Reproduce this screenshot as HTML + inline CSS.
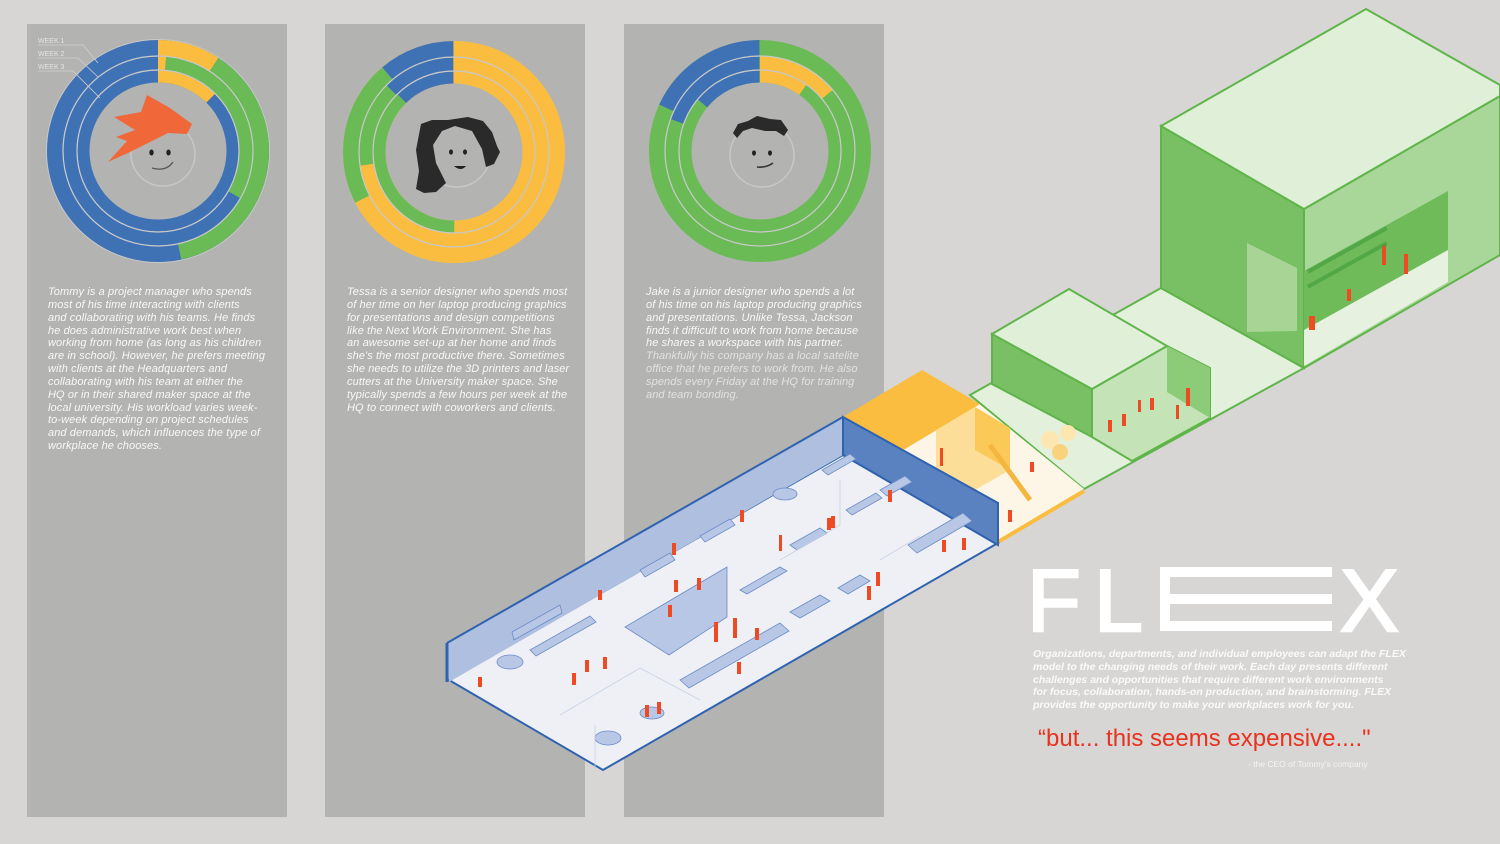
<!DOCTYPE html>
<html><head><meta charset="utf-8"><style>
html,body{margin:0;padding:0;background:#d7d6d4;}
body{width:1500px;height:844px;overflow:hidden;position:relative;font-family:"Liberation Sans",sans-serif;}
.panel{position:absolute;top:24px;width:260px;height:793px;background:#b3b3b2;}
.txt{position:absolute;font-style:italic;font-size:11px;letter-spacing:0.1px;line-height:12.85px;color:#f8f8f8;white-space:nowrap;}
.dim{color:#e2e2e2;}
svg{position:absolute;left:0;top:0;}
</style></head><body>
<div class="panel" style="left:27px"></div>
<div class="panel" style="left:325px"></div>
<div class="panel" style="left:624px"></div>

<div class="txt" style="left:48px;top:286px">Tommy is a project manager who spends<br>most of his time interacting with clients<br>and collaborating with his teams. He finds<br>he does administrative work best when<br>working from home (as long as his children<br>are in school). However, he prefers meeting<br>with clients at the Headquarters and<br>collaborating with his team at either the<br>HQ or in their shared maker space at the<br>local university. His workload varies week-<br>to-week depending on project schedules<br>and demands, which influences the type of<br>workplace he chooses.</div>

<div class="txt" style="left:347px;top:286px">Tessa is a senior designer who spends most<br>of her time on her laptop producing graphics<br>for presentations and design competitions<br>like the Next Work Environment. She has<br>an awesome set-up at her home and finds<br>she's the most productive there. Sometimes<br>she needs to utilize the 3D printers and laser<br>cutters at the University maker space. She<br>typically spends a few hours per week at the<br>HQ to connect with coworkers and clients.</div>

<div class="txt" style="left:646px;top:286px">Jake is a junior designer who spends a lot<br>of his time on his laptop producing graphics<br>and presentations. Unlike Tessa, Jackson<br>finds it difficult to work from home because<br>he shares a workspace with his partner.<br><span class="dim">Thankfully his company has a local satelite<br>office that he prefers to work from. He also<br>spends every Friday at the HQ for training<br>and team bonding.</span></div>

<svg width="1500" height="844" viewBox="0 0 1500 844">
<!-- CHART 1 -->
<g transform="translate(158,151) rotate(-90)" fill="none">
 <circle r="111.5" stroke="#c9c9c9" stroke-width="1"/>
 <circle r="103" stroke="#3f72b5" stroke-width="16"/>
 <circle r="103" pathLength="360" stroke="#fbbd3f" stroke-width="16" stroke-dasharray="33 400"/>
 <circle r="103" pathLength="360" stroke="#6abb55" stroke-width="16" stroke-dasharray="135 400" stroke-dashoffset="-33"/>
 <circle r="88" stroke="#3f72b5" stroke-width="13"/>
 <circle r="88" pathLength="360" stroke="#fbbd3f" stroke-width="13" stroke-dasharray="5 400"/>
 <circle r="88" pathLength="360" stroke="#6abb55" stroke-width="13" stroke-dasharray="115 400" stroke-dashoffset="-5"/>
 <circle r="74.5" stroke="#3f72b5" stroke-width="12"/>
 <circle r="74.5" pathLength="360" stroke="#fbbd3f" stroke-width="12" stroke-dasharray="45 400"/>
 <circle r="95" stroke="#c9c9c9" stroke-width="1.2"/>
 <circle r="81" stroke="#c9c9c9" stroke-width="1.2"/>
</g>
<g stroke="#d0d0d0" stroke-width="0.8" fill="none">
 <polyline points="38,45 83,45 98,63"/><polyline points="38,58 78,58 98,77"/><polyline points="38,71 73,71 100,98"/>
</g>
<g font-size="7" fill="#e4e4e4"><text x="38" y="43">WEEK 1</text><text x="38" y="56">WEEK 2</text><text x="38" y="69">WEEK 3</text></g>
<circle cx="163" cy="154" r="32" fill="none" stroke="#c7c7c7" stroke-width="1.5"/>
<polygon points="108,162 127,141 116,137 135,130 114,117 141,112 147,95 170,108 192,124 187,134 168,133 128,153" fill="#f0673a"/>
<ellipse cx="151.5" cy="152.5" rx="2.2" ry="3" fill="#222"/><ellipse cx="168.5" cy="152.5" rx="2.2" ry="3" fill="#222"/>
<path d="M152 168 Q166 172 173 162" stroke="#555" stroke-width="1.3" fill="none"/>

<!-- CHART 2 -->
<g transform="translate(454,152) rotate(-90)" fill="none">
 <circle r="103" stroke="#fbbd3f" stroke-width="16"/>
 <circle r="103" pathLength="360" stroke="#6abb55" stroke-width="16" stroke-dasharray="78 400" stroke-dashoffset="-243"/>
 <circle r="103" pathLength="360" stroke="#3f72b5" stroke-width="16" stroke-dasharray="40 400" stroke-dashoffset="-320"/>
 <circle r="88" stroke="#fbbd3f" stroke-width="13"/>
 <circle r="88" pathLength="360" stroke="#6abb55" stroke-width="13" stroke-dasharray="53 400" stroke-dashoffset="-262"/>
 <circle r="88" pathLength="360" stroke="#3f72b5" stroke-width="13" stroke-dasharray="45 400" stroke-dashoffset="-315"/>
 <circle r="74.5" stroke="#fbbd3f" stroke-width="12"/>
 <circle r="74.5" pathLength="360" stroke="#6abb55" stroke-width="12" stroke-dasharray="136 400" stroke-dashoffset="-180"/>
 <circle r="74.5" pathLength="360" stroke="#3f72b5" stroke-width="12" stroke-dasharray="44 400" stroke-dashoffset="-316"/>
 <circle r="95" stroke="#c9c9c9" stroke-width="1.2"/>
 <circle r="81" stroke="#c9c9c9" stroke-width="1.2"/>
</g>
<circle cx="457" cy="154" r="33" fill="none" stroke="#c7c7c7" stroke-width="1.5"/>
<polygon points="421,124 432,120 448,120 468,117 483,121 492,132 497,146 500,152 494,164 486,167 482,149 472,131 455,126 442,131 433,145 436,163 446,183 436,192 424,193 416,189 419,171 416,150" fill="#2a2a2a"/>
<ellipse cx="451" cy="152" rx="2" ry="2.6" fill="#222"/><ellipse cx="465" cy="152" rx="2" ry="2.6" fill="#222"/>
<path d="M454 166 L466 166 Q461 172 454 166Z" fill="#222"/>

<!-- CHART 3 -->
<g transform="translate(760,151) rotate(-90)" fill="none">
 <circle r="103" stroke="#6abb55" stroke-width="16"/>
 <circle r="103" pathLength="360" stroke="#3f72b5" stroke-width="16" stroke-dasharray="65 400" stroke-dashoffset="-295"/>
 <circle r="88" stroke="#6abb55" stroke-width="13"/>
 <circle r="88" pathLength="360" stroke="#fbbd3f" stroke-width="13" stroke-dasharray="50 400"/>
 <circle r="88" pathLength="360" stroke="#3f72b5" stroke-width="13" stroke-dasharray="70 400" stroke-dashoffset="-290"/>
 <circle r="74.5" stroke="#6abb55" stroke-width="12"/>
 <circle r="74.5" pathLength="360" stroke="#fbbd3f" stroke-width="12" stroke-dasharray="35 400"/>
 <circle r="74.5" pathLength="360" stroke="#3f72b5" stroke-width="12" stroke-dasharray="50 400" stroke-dashoffset="-310"/>
 <circle r="95" stroke="#c9c9c9" stroke-width="1.2"/>
 <circle r="81" stroke="#c9c9c9" stroke-width="1.2"/>
</g>
<circle cx="762" cy="155" r="32" fill="none" stroke="#c7c7c7" stroke-width="1.5"/>
<polygon points="733,133 738,124 748,121 757,116 770,119 781,120 788,130 784,136 776,131 765,131 752,128 743,131 737,138" fill="#2a2a2a"/>
<ellipse cx="754" cy="153" rx="2" ry="2.6" fill="#222"/><ellipse cx="770" cy="153" rx="2" ry="2.6" fill="#222"/>
<path d="M757 167 Q766 168 773 163" stroke="#333" stroke-width="1.6" fill="none"/>

<!-- GREEN BIG BOX -->
<polygon points="970,395 1161,288 1304,368 1084,489" fill="#e3f0dc" stroke="#5fb54a" stroke-width="2"/>
<polygon points="1161,126 1304,209 1304,368 1161,288" fill="#79c064" stroke="#5fb54a" stroke-width="2"/>
<polygon points="1247,243 1297,268 1297,331 1247,332" fill="#a8d596"/>
<polygon points="1304,209 1500,96 1500,255 1304,368" fill="#a9d699" stroke="#5fb54a" stroke-width="2"/>
<polygon points="1304,271 1448,191 1448,282 1304,366" fill="#6fbb5a"/>
<polygon points="1304,330 1448,250 1448,282 1304,366" fill="#e6f2df"/>
<polygon points="1161,126 1366,9 1500,85 1500,96 1304,209" fill="#e0efd8" stroke="#5fb54a" stroke-width="2"/>
<!-- middle box -->
<polygon points="992,334 1092,389 1092,437 992,384" fill="#79c064" stroke="#5fb54a" stroke-width="2"/>
<polygon points="1092,389 1167,346 1210,368 1210,418 1132,461 1092,437" fill="#c4e4b8" stroke="#5fb54a" stroke-width="2"/>
<polygon points="1167,346 1210,368 1210,418 1167,392" fill="#8ccb77"/>
<polygon points="992,334 1069,289 1167,346 1092,389" fill="#e0efd8" stroke="#5fb54a" stroke-width="2"/>
<!-- YELLOW -->
<polygon points="900,450 978,403 1084,489 998,540" fill="#fdf6e6"/>
<polygon points="843,417 922,370 980,404 900,452" fill="#fbbd3f"/>
<polygon points="936,430 975,407 1010,428 1010,470 975,490 936,470" fill="#fddc8f" opacity="0.9"/>
<polygon points="975,407 1010,428 1010,470 975,450" fill="#fbc958"/>
<line x1="990" y1="445" x2="1030" y2="500" stroke="#f4b640" stroke-width="5"/>
<circle cx="1050" cy="440" r="9" fill="#fde7b0"/><circle cx="1068" cy="433" r="8" fill="#fde7b0"/><circle cx="1060" cy="452" r="8" fill="#f8d27d"/>
<line x1="998" y1="542" x2="1084" y2="491" stroke="#fbbd3f" stroke-width="4"/>
<!-- BLUE -->
<polygon points="449,680 843,455 998,543 603,770" fill="#eef0f5" stroke="#2f63b0" stroke-width="2"/>
<polygon points="447,643 843,417 843,455 449,682" fill="#aebfe0"/>
<line x1="447" y1="643" x2="843" y2="417" stroke="#2f63b0" stroke-width="2"/>
<line x1="447" y1="643" x2="447" y2="682" stroke="#2f63b0" stroke-width="3"/>
<polygon points="843,417 998,503 998,545 843,455" fill="#5a82c0" stroke="#2f63b0" stroke-width="2"/>
<g fill="#b8c7e6" stroke="#6b8cc8" stroke-width="0.8">
 <polygon points="625,627 727,567 727,617 669,655"/>
 <polygon points="740,590 780,567 787,571 747,594"/>
 <polygon points="680,680 780,623 789,631 689,688"/>
 <polygon points="530,650 590,616 596,622 536,656"/>
 <polygon points="512,632 560,605 562,613 514,640"/>
 <polygon points="790,545 820,528 827,533 797,550"/>
 <polygon points="908,545 963,513 972,521 917,553"/>
 <polygon points="846,510 876,493 882,498 852,515"/>
 <polygon points="880,490 905,476 912,482 887,496"/>
 <polygon points="822,470 850,454 856,459 828,475"/>
 <polygon points="790,612 820,595 830,601 800,618"/>
 <polygon points="838,588 860,575 870,581 848,594"/>
 <polygon points="700,536 730,519 735,525 705,542"/>
 <polygon points="640,570 670,553 675,560 645,577"/>
 <ellipse cx="510" cy="662" rx="13" ry="7"/><ellipse cx="608" cy="738" rx="13" ry="7"/><ellipse cx="785" cy="494" rx="12" ry="6"/><ellipse cx="652" cy="713" rx="12" ry="6"/>
</g>
<g stroke="#c9d2e6" stroke-width="0.8" fill="none">
 <polyline points="560,715 640,668 700,700"/><polyline points="595,768 595,725"/><polyline points="780,560 840,525 840,480"/><polyline points="880,560 920,536"/>
</g>
<g fill="#ee4a23">
 <rect x="672" y="543" width="4" height="12"/><rect x="740" y="510" width="4" height="12"/><rect x="779" y="535" width="3" height="16"/><rect x="827" y="518" width="4" height="12"/><rect x="888" y="490" width="4" height="12"/><rect x="942" y="540" width="4" height="12"/><rect x="962" y="538" width="4" height="12"/><rect x="714" y="622" width="4" height="20"/><rect x="733" y="618" width="4" height="20"/><rect x="645" y="705" width="4" height="12"/><rect x="657" y="702" width="4" height="12"/><rect x="585" y="660" width="4" height="12"/><rect x="603" y="657" width="4" height="12"/><rect x="572" y="673" width="4" height="12"/><rect x="674" y="580" width="4" height="12"/><rect x="697" y="578" width="4" height="12"/><rect x="668" y="605" width="4" height="12"/><rect x="755" y="628" width="4" height="12"/><rect x="737" y="662" width="4" height="12"/><rect x="598" y="590" width="4" height="10"/><rect x="478" y="677" width="4" height="10"/><rect x="876" y="572" width="4" height="14"/><rect x="867" y="586" width="4" height="14"/><rect x="831" y="516" width="4" height="12"/><rect x="940" y="448" width="3" height="18"/><rect x="1008" y="510" width="4" height="12"/><rect x="1030" y="462" width="4" height="10"/><rect x="1186" y="388" width="4" height="18"/><rect x="1176" y="405" width="3" height="14"/><rect x="1150" y="398" width="4" height="12"/><rect x="1138" y="400" width="3" height="12"/><rect x="1122" y="414" width="4" height="12"/><rect x="1108" y="420" width="4" height="12"/><rect x="1382" y="245" width="4" height="20"/><rect x="1404" y="254" width="4" height="20"/><rect x="1309" y="316" width="6" height="14"/><rect x="1347" y="289" width="4" height="12"/>
</g>
<g fill="#3f9a3a" opacity="0.6"><rect x="1307" y="270" width="90" height="4" transform="rotate(-29 1307 270)"/><rect x="1307" y="285" width="90" height="4" transform="rotate(-29 1307 285)"/></g>

<!-- FLEX -->
<title>FLEX</title>
<g fill="#ffffff" stroke="#ffffff" stroke-width="2.5">
 <text x="1027" y="631" font-size="88" font-family="Liberation Sans, sans-serif">F</text>
 <text x="1094" y="631" font-size="88" font-family="Liberation Sans, sans-serif">L</text>
 <text x="1340" y="631" font-size="88" font-family="Liberation Sans, sans-serif">X</text>
</g>
<g fill="#ffffff">
 <rect x="1160" y="567" width="10" height="64"/>
 <rect x="1160" y="567" width="172" height="10"/>
 <rect x="1160" y="594" width="172" height="10"/>
 <rect x="1160" y="621" width="172" height="10"/>
</g>
</svg>

<div class="txt" style="left:1033px;top:648px;font-weight:bold;color:#fafafa;line-height:12.8px;font-size:10.5px;letter-spacing:0">Organizations, departments, and individual employees can adapt the FLEX<br>model to the changing needs of their work. Each day presents different<br>challenges and opportunities that require different work environments<br>for focus, collaboration, hands-on production, and brainstorming. FLEX<br>provides the opportunity to make your workplaces work for you.</div>
<div style="position:absolute;left:1038px;top:725px;font-size:24px;color:#e8321e;white-space:nowrap">“but... this seems expensive...."</div>
<div style="position:absolute;left:1248px;top:759px;font-size:8.5px;color:#f4f4f4;white-space:nowrap">- the CEO of Tommy's company</div>
</body></html>
